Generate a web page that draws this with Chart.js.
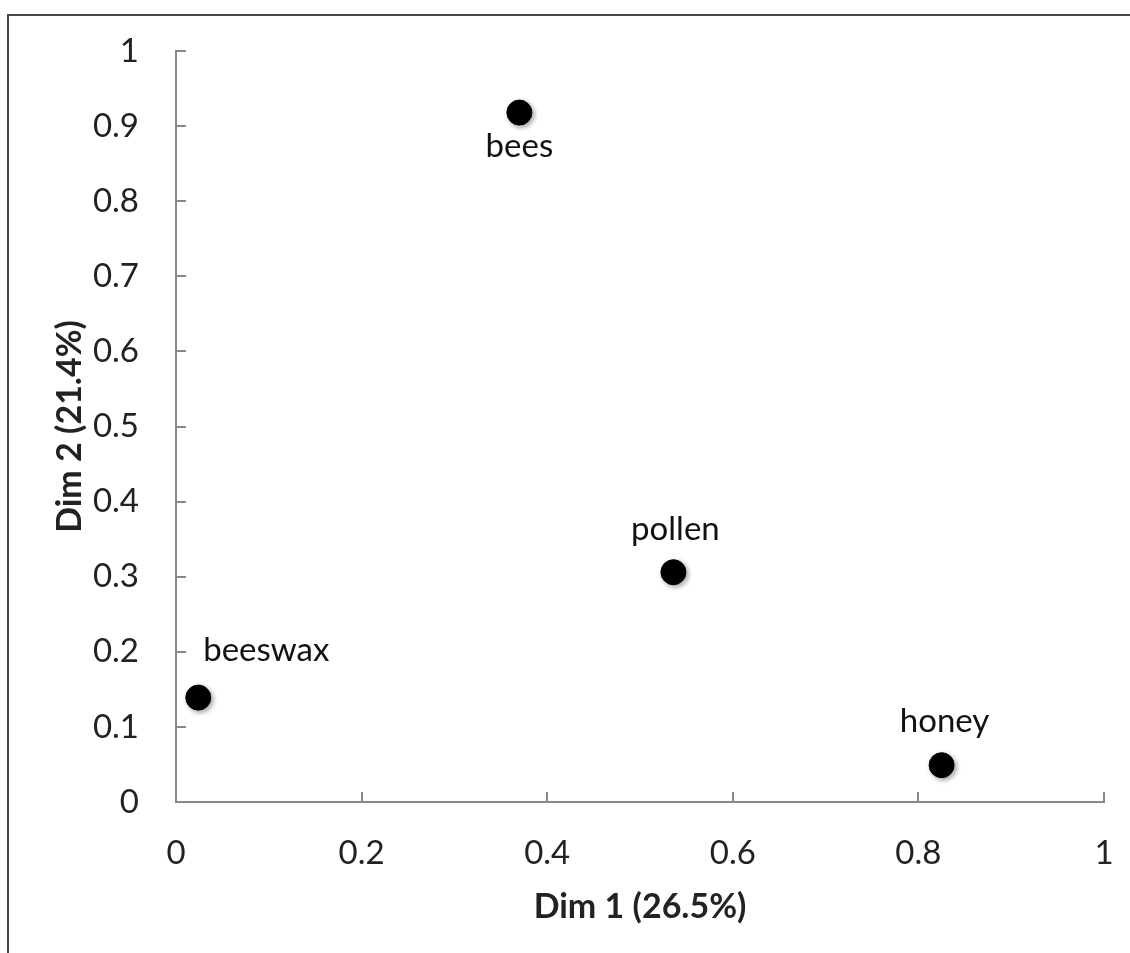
<!DOCTYPE html>
<html>
<head>
<meta charset="utf-8">
<script src="https://cdn.jsdelivr.net/npm/chart.js@4.4.1/dist/chart.umd.min.js"></script>
<style>
  html, body { margin: 0; padding: 0; background: #fff; overflow: hidden; }
  #wrap { position: relative; width: 1130px; height: 953px; }
  #frame { position: absolute; left: 7px; top: 14px; width: 1200px; height: 1000px;
           border-left: 2px solid #454545; border-top: 2px solid #454545; pointer-events: none; }
  canvas { position: absolute; left: 0; top: 0; }
</style>
</head>
<body>
<div id="wrap">
  <canvas id="c" width="1130" height="953"></canvas>
  <div id="frame"></div>
</div>
<script>
const pointLabels = ['bees', 'pollen', 'beeswax', 'honey'];
const dim1 = [0.370, 0.536, 0.024, 0.825];
const dim2 = [0.918, 0.306, 0.139, 0.049];
const yTickValues = [0, 0.1, 0.2, 0.3, 0.4, 0.5, 0.6, 0.7, 0.8, 0.9, 1];
const xTickValues = [0, 0.2, 0.4, 0.6, 0.8, 1];
const xTitle = 'Dim 1 (26.5%)';
const yTitle = 'Dim 2 (21.4%)';

const FONT = 'Lato, "Open Sans", sans-serif';
const labelOffsets = [[0, 34], [2, -43], [68, -47], [3, -44]];

const innerTicks = {
  id: 'innerTicks',
  afterDraw(chart) {
    const ctx = chart.ctx;
    const xs = chart.scales.x, ys = chart.scales.y;
    const a = chart.chartArea;
    ctx.save();
    ctx.strokeStyle = '#888888';
    ctx.lineWidth = 2;
    ctx.beginPath();
    xs.ticks.forEach(t => {
      const px = Math.round(xs.getPixelForValue(t.value));
      ctx.moveTo(px, a.bottom); ctx.lineTo(px, a.bottom - 10);
    });
    ys.ticks.forEach(t => {
      const py = Math.round(ys.getPixelForValue(t.value));
      ctx.moveTo(a.left, py); ctx.lineTo(a.left + 10, py);
    });
    ctx.stroke();
    ctx.restore();
  }
};

const pointText = {
  id: 'pointText',
  afterDatasetsDraw(chart) {
    const ctx = chart.ctx;
    const meta = chart.getDatasetMeta(0);
    ctx.save();
    ctx.fillStyle = '#111';
    ctx.font = '33px ' + FONT;
    ctx.textAlign = 'center';
    ctx.textBaseline = 'middle';
    meta.data.forEach((el, i) => {
      const off = labelOffsets[i];
      ctx.fillText(pointLabels[i], el.x + off[0], el.y + off[1]);
    });
    ctx.restore();
  }
};

const shadow = {
  id: 'shadow',
  beforeDatasetsDraw(chart) {
    const ctx = chart.ctx;
    ctx.save();
    ctx.shadowColor = 'rgba(0,0,0,0.35)';
    ctx.shadowBlur = 5;
    ctx.shadowOffsetX = 2;
    ctx.shadowOffsetY = 2;
  },
  afterDatasetsDraw(chart) {
    chart.ctx.restore();
  }
};

new Chart(document.getElementById('c'), {
  type: 'scatter',
  data: {
    datasets: [{
      data: dim1.map((x, i) => ({ x: x, y: dim2[i] })),
      backgroundColor: '#000',
      borderColor: '#000',
      pointRadius: 12.5,
      pointHoverRadius: 12.5
    }]
  },
  options: {
    responsive: false,
    animation: false,
    events: [],
    layout: { padding: { left: 0, top: 51, right: 26, bottom: 0 } },
    plugins: { legend: { display: false }, tooltip: { enabled: false } },
    scales: {
      x: {
        type: 'linear', min: 0, max: 1,
        afterBuildTicks: s => { s.ticks = xTickValues.map(v => ({ value: v })); },
        afterFit: s => { s.height = 151; },
        grid: { display: true, drawOnChartArea: false, drawTicks: true, tickLength: 30, color: 'rgba(0,0,0,0)' },
        border: { display: true, color: '#888888', width: 2 },
        ticks: { color: '#222', font: { family: FONT, size: 33 }, padding: 2,
                 callback: v => String(+v.toFixed(1)) },
        title: { display: true, text: xTitle, color: '#222',
                 font: { family: FONT, size: 34, weight: 'bold' }, padding: { top: 0, bottom: 26 } }
      },
      y: {
        type: 'linear', min: 0, max: 1,
        afterBuildTicks: s => { s.ticks = yTickValues.map(v => ({ value: v })); },
        afterFit: s => { s.width = 176; },
        grid: { display: true, drawOnChartArea: false, drawTicks: true, tickLength: 34, color: 'rgba(0,0,0,0)' },
        border: { display: true, color: '#888888', width: 2 },
        ticks: { color: '#222', font: { family: FONT, size: 33 }, padding: 3,
                 callback: v => String(+v.toFixed(1)) },
        title: { display: true, text: yTitle, color: '#222',
                 font: { family: FONT, size: 34, weight: 'bold' }, padding: { top: 50, bottom: 0 } }
      }
    }
  },
  plugins: [shadow, pointText, innerTicks]
});
</script>
</body>
</html>
